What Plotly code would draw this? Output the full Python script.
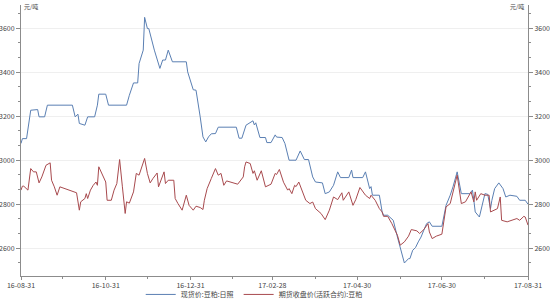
import plotly.graph_objects as go

# 现货价:豆粕:日照 (spot price)
spot_dates = [
    "2016-08-31", "2016-09-01", "2016-09-04", "2016-09-07", "2016-09-12", "2016-09-13", "2016-09-17",
    "2016-09-19", "2016-10-07", "2016-10-09", "2016-10-11", "2016-10-12", "2016-10-16", "2016-10-18",
    "2016-10-23", "2016-10-25", "2016-10-26", "2016-10-31", "2016-11-02", "2016-11-15", "2016-11-17",
    "2016-11-20", "2016-11-23", "2016-11-24", "2016-11-27", "2016-11-28", "2016-11-30", "2016-12-01",
    "2016-12-05", "2016-12-08", "2016-12-09", "2016-12-11", "2016-12-13", "2016-12-15", "2016-12-18",
    "2016-12-28", "2016-12-29", "2017-01-02", "2017-01-04", "2017-01-07", "2017-01-09", "2017-01-11",
    "2017-01-13", "2017-01-15", "2017-01-18", "2017-01-20", "2017-02-02", "2017-02-04", "2017-02-06",
    "2017-02-09", "2017-02-14", "2017-02-15", "2017-02-16", "2017-02-19", "2017-02-23", "2017-02-24",
    "2017-02-27", "2017-03-02", "2017-03-03", "2017-03-07", "2017-03-09", "2017-03-12", "2017-03-17",
    "2017-03-20", "2017-03-23", "2017-03-26", "2017-03-29", "2017-03-31", "2017-04-05", "2017-04-07",
    "2017-04-10", "2017-04-13", "2017-04-16", "2017-04-18", "2017-04-24", "2017-04-26", "2017-04-27",
    "2017-05-04", "2017-05-06", "2017-05-09", "2017-05-10", "2017-05-11", "2017-05-16", "2017-05-18",
    "2017-05-19", "2017-05-22", "2017-05-26", "2017-05-29", "2017-06-02", "2017-06-03", "2017-06-06",
    "2017-06-07", "2017-06-09", "2017-06-11", "2017-06-13", "2017-06-15", "2017-06-17", "2017-06-19",
    "2017-06-21", "2017-06-23", "2017-06-30", "2017-07-03", "2017-07-06", "2017-07-08", "2017-07-11",
    "2017-07-14", "2017-07-20", "2017-07-22", "2017-07-23", "2017-07-24", "2017-07-27", "2017-07-29",
    "2017-07-31", "2017-08-02", "2017-08-04", "2017-08-05", "2017-08-07", "2017-08-10", "2017-08-13",
    "2017-08-15", "2017-08-18", "2017-08-23", "2017-08-25", "2017-08-29", "2017-08-31",
]
spot_values = [
    3076, 3098, 3098, 3227, 3230, 3197, 3197,
    3250, 3250, 3197, 3209, 3167, 3159, 3197,
    3197, 3250, 3300, 3300, 3250, 3250, 3295,
    3351, 3351, 3439, 3500, 3649, 3598, 3598,
    3500, 3430, 3417, 3455, 3455, 3500, 3447,
    3447, 3401, 3320, 3318, 3197, 3106, 3083,
    3106, 3120, 3121, 3150, 3150, 3100, 3100,
    3159, 3179, 3160, 3170, 3103, 3103, 3080,
    3080, 3115, 3105, 3103, 3076, 3000, 3000,
    3042, 3003, 3003, 2924, 2901, 2897, 2848,
    2856, 2886, 2947, 2921, 2921, 2955, 2921,
    2921, 2947, 2871, 2880, 2841, 2841, 2765,
    2750, 2750, 2727, 2651, 2553, 2533, 2553,
    2553, 2591, 2603, 2629, 2651, 2682, 2712,
    2720, 2700, 2700, 2795, 2841, 2879, 2947,
    2848, 2848, 2864, 2818, 2765, 2742, 2795,
    2848, 2845, 2780, 2818, 2871, 2897, 2871,
    2833, 2841, 2836, 2818, 2818, 2800,
]

# 期货收盘价(活跃合约):豆粕 (futures close)
fut_dates = [
    "2016-08-31", "2016-09-01", "2016-09-02", "2016-09-05", "2016-09-07", "2016-09-09", "2016-09-11",
    "2016-09-13", "2016-09-15", "2016-09-18", "2016-09-21", "2016-09-22", "2016-09-24", "2016-09-26",
    "2016-09-28", "2016-10-10", "2016-10-12", "2016-10-13", "2016-10-16", "2016-10-17", "2016-10-18",
    "2016-10-20", "2016-10-22", "2016-10-24", "2016-10-25", "2016-10-26", "2016-10-31", "2016-11-01",
    "2016-11-04", "2016-11-06", "2016-11-08", "2016-11-10", "2016-11-12", "2016-11-14", "2016-11-15",
    "2016-11-17", "2016-11-20", "2016-11-22", "2016-11-24", "2016-11-26", "2016-11-28", "2016-11-30",
    "2016-12-02", "2016-12-04", "2016-12-07", "2016-12-08", "2016-12-12", "2016-12-13", "2016-12-15",
    "2016-12-19", "2016-12-20", "2016-12-22", "2016-12-25", "2016-12-28", "2016-12-30", "2017-01-02",
    "2017-01-04", "2017-01-07", "2017-01-09", "2017-01-10", "2017-01-12", "2017-01-15", "2017-01-18",
    "2017-01-20", "2017-01-22", "2017-01-24", "2017-01-26", "2017-02-03", "2017-02-07", "2017-02-08",
    "2017-02-09", "2017-02-12", "2017-02-14", "2017-02-15", "2017-02-17", "2017-02-20", "2017-02-23",
    "2017-02-27", "2017-03-02", "2017-03-03", "2017-03-05", "2017-03-08", "2017-03-11", "2017-03-12",
    "2017-03-14", "2017-03-16", "2017-03-17", "2017-03-19", "2017-03-21", "2017-03-24", "2017-03-27",
    "2017-03-29", "2017-03-31", "2017-04-04", "2017-04-07", "2017-04-10", "2017-04-13", "2017-04-16",
    "2017-04-19", "2017-04-20", "2017-04-24", "2017-04-27", "2017-04-29", "2017-05-02", "2017-05-06",
    "2017-05-09", "2017-05-10", "2017-05-13", "2017-05-16", "2017-05-18", "2017-05-19", "2017-05-22",
    "2017-05-25", "2017-05-29", "2017-05-31", "2017-06-03", "2017-06-06", "2017-06-08", "2017-06-12",
    "2017-06-14", "2017-06-17", "2017-06-20", "2017-06-21", "2017-06-23", "2017-06-26", "2017-06-30",
    "2017-07-03", "2017-07-06", "2017-07-11", "2017-07-14", "2017-07-17", "2017-07-19", "2017-07-21",
    "2017-07-23", "2017-07-24", "2017-07-25", "2017-07-28", "2017-07-31", "2017-08-03", "2017-08-04",
    "2017-08-07", "2017-08-09", "2017-08-11", "2017-08-12", "2017-08-16", "2017-08-19", "2017-08-23",
    "2017-08-25", "2017-08-28", "2017-08-29", "2017-08-31",
]
fut_values = [
    2864, 2882, 2882, 2864, 2962, 2947, 2947,
    2897, 2924, 2977, 2988, 2909, 2879, 2841,
    2879, 2852, 2773, 2811, 2826, 2848, 2826,
    2864, 2886, 2901, 2886, 2970, 2901, 2818,
    2818, 2864, 2894, 3003, 2879, 2758, 2811,
    2805, 2856, 2940, 2932, 2970, 3008, 2940,
    2897, 2917, 2942, 2879, 2947, 2894, 2909,
    2909, 2826, 2803, 2773, 2841, 2795, 2773,
    2791, 2785, 2776, 2818, 2871, 2917, 2962,
    2932, 2940, 2886, 2906, 2891, 2924, 2970,
    2992, 2985, 2940, 2952, 2909, 2952, 2879,
    2891, 2940, 2935, 2958, 2900, 2864, 2871,
    2848, 2886, 2880, 2901, 2871, 2818, 2803,
    2810, 2780, 2758, 2730, 2773, 2833, 2821,
    2852, 2818, 2856, 2795, 2821, 2876, 2841,
    2826, 2841, 2818, 2780, 2765, 2745, 2745,
    2712, 2659, 2614, 2629, 2655, 2685, 2679,
    2667, 2685, 2712, 2674, 2644, 2655, 2664,
    2788, 2803, 2932, 2803, 2811, 2833, 2856,
    2811, 2856, 2818, 2848, 2841, 2841, 2765,
    2773, 2780, 2833, 2727, 2720, 2727, 2735,
    2727, 2745, 2742, 2705,
]

x_tick_vals = ["2016-08-31", "2016-10-31", "2016-12-31", "2017-02-28", "2017-04-30", "2017-06-30", "2017-08-31"]
x_minor_vals = ["2016-09-30", "2016-11-30", "2017-01-30", "2017-03-31", "2017-05-31", "2017-07-31"]
y_tick_vals = [2600, 2800, 3000, 3200, 3400, 3600]
unit_label = "元/吨"
spot_name = "现货价:豆粕:日照"
fut_name = "期货收盘价(活跃合约):豆粕"

BLUE = "#5a7fb3"
RED = "#a84a4e"
AXIS = "#8c8c8c"
TXT = "#444444"
FONT = "Noto Sans CJK SC, Noto Sans, sans-serif"
YR = [2474, 3705]

fig = go.Figure()
fig.add_trace(go.Scatter(x=spot_dates, y=spot_values, mode="lines", name=spot_name,
                         line=dict(color=BLUE, width=1)))
fig.add_trace(go.Scatter(x=fut_dates, y=fut_values, mode="lines", name=fut_name,
                         line=dict(color=RED, width=1), yaxis="y2"))

yaxis_common = dict(
    range=YR, tickvals=y_tick_vals, ticks="outside", ticklen=4, tickcolor=AXIS,
    showline=True, linecolor=AXIS, linewidth=1, zeroline=False,
    tickfont=dict(family=FONT, size=7, color=TXT),
    minor=dict(tick0=2600, dtick=200 / 3, ticks="outside", ticklen=2, tickcolor=AXIS, showgrid=False),
)

fig.update_layout(
    width=550, height=300,
    margin=dict(l=21, r=22, t=5, b=24, autoexpand=False),
    paper_bgcolor="white", plot_bgcolor="white",
    showlegend=True,
    legend=dict(orientation="h", x=0.46, xanchor="center", y=-0.068, yanchor="middle",
                font=dict(family=FONT, size=7, color=TXT), bgcolor="rgba(0,0,0,0)",
                itemwidth=30, tracegroupgap=0),
    xaxis=dict(
        type="date", range=["2016-08-31", "2017-08-31"],
        tickvals=x_tick_vals, tickformat="%y-%m-%d",
        ticks="outside", ticklen=3, tickcolor=AXIS,
        showline=True, linecolor=AXIS, linewidth=1, showgrid=False, zeroline=False,
        tickfont=dict(family=FONT, size=7, color=TXT),
        minor=dict(tickvals=x_minor_vals, ticks="outside", ticklen=2, tickcolor=AXIS, showgrid=False),
    ),
    yaxis=dict(side="left", showgrid=True, gridcolor="#efefef", gridwidth=1, **yaxis_common),
    yaxis2=dict(side="right", overlaying="y", showgrid=False, **yaxis_common),
    annotations=[
        dict(text=unit_label, xref="paper", yref="paper", x=0.0, y=1.0, xanchor="left", yanchor="middle",
             xshift=1, yshift=-1, showarrow=False, font=dict(family=FONT, size=6, color=TXT)),
        dict(text=unit_label, xref="paper", yref="paper", x=1.0, y=1.0, xanchor="right", yanchor="middle",
             xshift=-2, yshift=-1, showarrow=False, font=dict(family=FONT, size=6, color=TXT)),
    ],
)

fig.write_html("out.html")
